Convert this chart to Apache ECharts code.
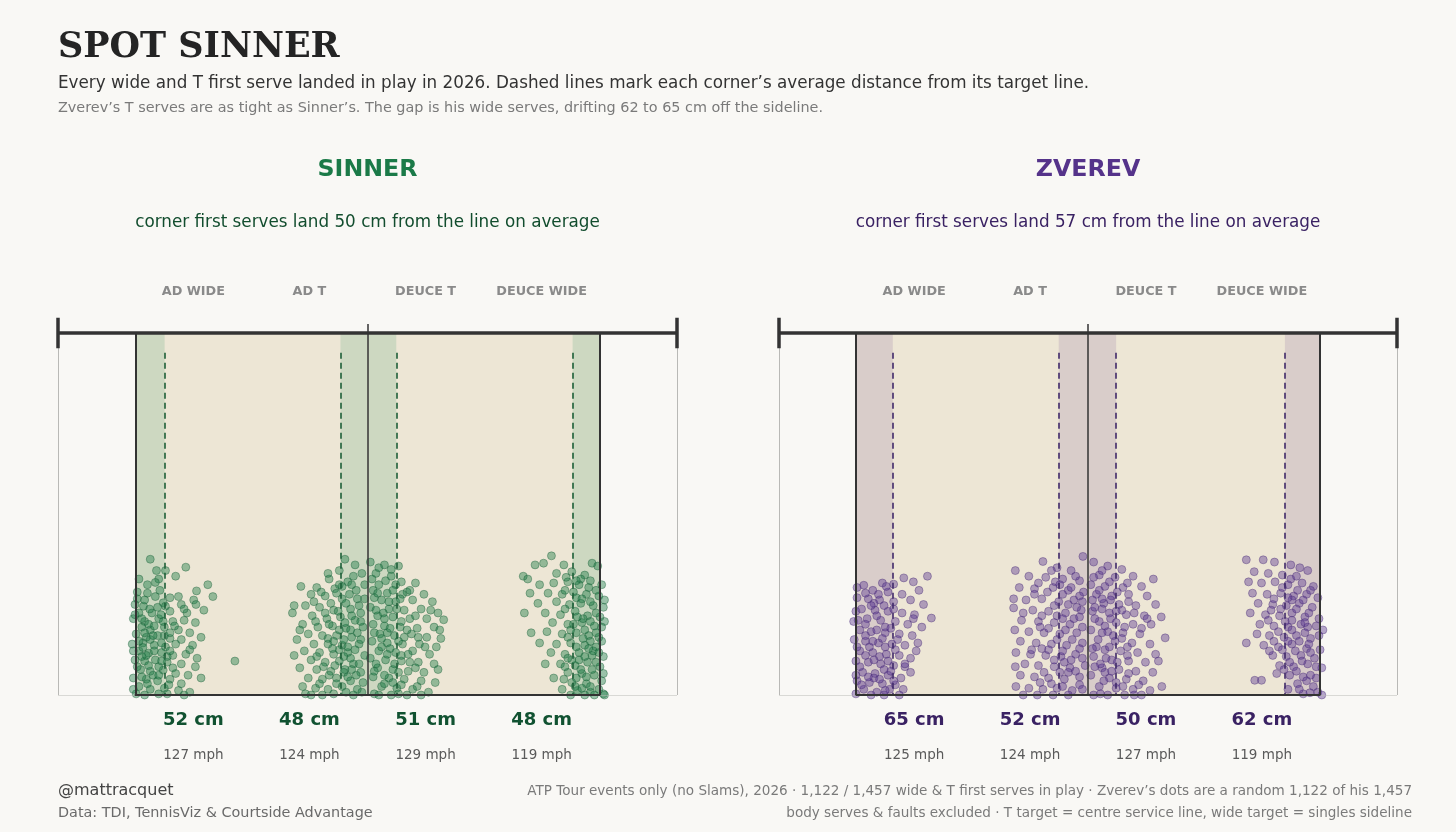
<!DOCTYPE html>
<html>
<head>
<meta charset="utf-8">
<script src="https://cdn.jsdelivr.net/npm/echarts@6.0.0/dist/echarts.min.js"></script>
<style>
  html, body { margin: 0; padding: 0; background: #f9f8f5; }
  #chart { width: 1456px; height: 832px; }
</style>
</head>
<body>
<div id="chart"></div>
<script>
// court geometry, metres (x = across the court, 0 = centre service line; y = depth from the net)
const HALF_DOUBLES = 5.485;
const HALF_SINGLES = 4.115;
const BOX_DEPTH = 6.4;

const zones = ['AD WIDE', 'AD T', 'DEUCE T', 'DEUCE WIDE'];
const zoneCentre = [-3.086, -1.029, 1.029, 3.086];
const targetLine = [-4.115, 0, 0, 4.115];
const inward = [1, -1, 1, -1]; // which way "off the line" goes for each corner

const sinnerCm = [52, 48, 51, 48];
const sinnerMph = [127, 124, 129, 119];
const zverevCm = [65, 52, 50, 62];
const zverevMph = [125, 124, 127, 119];

// landing spots [x, y] (a thinned sample of each cloud)
const sinnerAdWide = [[-3.85,4.0],[-3.74,4.2],[-3.58,4.2],[-3.22,4.14],[-3.4,4.3],[-3.7,4.35],[-4.05,4.35],[-3.9,4.45],[-3.76,4.41],[-2.83,4.45],[-3.03,4.56],[-2.74,4.66],[-3.9,4.6],[-3.76,4.66],[-3.35,4.66],[-3.08,4.72],[-3.62,4.77],[-4.12,4.8],[-3.97,4.83],[-3.58,4.83],[-3.3,4.8],[-3.04,4.8],[-2.9,4.9],[-4.05,4.95],[-3.82,4.95],[-3.5,4.92],[-3.2,4.95],[-4.15,5.05],[-3.95,5.1],[-3.7,5.05],[-3.45,5.1],[-3.25,5.08],[-3.05,5.12],[-4.0,5.2],[-3.85,5.25],[-3.6,5.2],[-3.35,5.25],[-3.15,5.3],[-4.1,5.32],[-3.92,5.38],[-3.72,5.35],[-3.5,5.4],[-3.3,5.42],[-2.95,5.38],[-4.17,5.5],[-3.98,5.48],[-3.78,5.52],[-3.58,5.55],[-3.4,5.5],[-3.1,5.52],[-4.05,5.62],[-3.88,5.66],[-3.65,5.65],[-3.45,5.7],[-3.22,5.68],[-2.35,5.8],[-4.12,5.78],[-3.95,5.8],[-3.76,5.78],[-3.55,5.82],[-3.3,5.85],[-3.05,5.9],[-4.02,5.95],[-3.85,5.98],[-3.62,5.96],[-3.4,6.02],[-3.18,6.05],[-4.15,6.1],[-3.92,6.12],[-3.72,6.15],[-3.5,6.12],[-2.95,6.1],[-4.05,6.25],[-3.85,6.3],[-3.6,6.28],[-3.35,6.32],[-3.15,6.35],[-4.1,6.38],[-3.95,6.4],[-3.7,6.38],[-3.25,6.4],[-3.88,5.15],[-3.66,4.98],[-3.98,5.56],[-3.7,5.9],[-4.08,4.7],[-3.52,6.22],[-3.8,6.05],[-3.6,5.35],[-4.0,5.72],
  [-4.08,4.58],[-3.95,4.72],[-3.68,4.55],[-3.5,4.68],[-3.86,4.88],[-4.12,4.98],[-3.62,5.1],[-3.78,5.18],[-4.05,5.45],[-3.85,5.42],[-3.65,5.48],[-3.5,5.3],[-4.15,5.62],[-3.92,5.7],[-3.78,5.62],[-3.55,5.72],[-4.08,5.9],[-3.88,5.88],[-3.65,5.8],[-3.45,5.92],[-4.0,6.08],[-3.7,6.05],[-3.55,6.38],[-3.9,6.2],[-4.15,6.3],[-3.42,5.18],[-3.25,4.88],[-3.15,5.6],[-3.02,5.75],[-3.3,6.2],[-3.72,4.85],[-4.0,5.05],[-3.95,5.3],[-3.8,5.35],[-3.5,5.62]];
const sinnerAdT = [[-0.4,4.0],[-0.22,4.1],[-0.5,4.2],[-0.1,4.25],[-0.68,4.35],[-0.35,4.4],[-1.18,4.48],[-0.9,4.5],[-0.58,4.52],[-0.2,4.55],[-1.0,4.62],[-0.75,4.65],[-0.45,4.7],[-0.05,4.7],[-1.3,4.82],[-1.1,4.82],[-0.85,4.85],[-0.6,4.9],[-0.3,4.88],[-0.12,4.95],[-1.33,4.95],[-0.98,5.0],[-0.72,5.05],[-0.48,5.02],[-0.22,5.08],[-1.15,5.15],[-0.88,5.2],[-0.62,5.18],[-0.38,5.22],[-0.08,5.2],[-1.05,5.32],[-0.8,5.35],[-0.55,5.35],[-0.28,5.38],[-1.25,5.42],[-0.95,5.5],[-0.7,5.5],[-0.45,5.52],[-0.15,5.5],[-1.12,5.62],[-0.85,5.65],[-0.6,5.68],[-0.35,5.65],[-0.05,5.7],[-1.0,5.78],[-0.75,5.82],[-0.5,5.8],[-0.25,5.85],[-1.2,5.92],[-0.9,5.95],[-0.65,5.98],[-0.4,5.95],[-0.12,6.0],[-1.05,6.1],[-0.8,6.12],[-0.55,6.1],[-0.3,6.15],[-1.15,6.25],[-0.92,6.28],[-0.7,6.3],[-0.45,6.25],[-0.18,6.3],[-1.0,6.4],[-0.6,6.38],[-0.25,6.4],[-0.32,4.62],[-0.15,4.82],[-0.4,5.12],[-0.18,5.3],[-0.5,5.6],[-0.3,5.75],[-0.2,6.05],[-0.12,5.42],[-0.65,4.78],[-0.78,5.9],[-0.55,6.2],[-0.08,6.18],[-0.42,6.0],[-0.25,4.3],[-0.95,4.75],[-0.6,5.45],[-0.35,5.55],
  [-0.7,4.25],[-0.45,4.48],[-0.28,4.45],[-0.82,4.58],[-0.55,4.6],[-0.38,4.78],[-0.18,4.7],[-0.75,4.95],[-0.52,4.92],[-0.28,5.0],[-0.92,5.1],[-0.68,5.15],[-0.5,5.25],[-0.3,5.25],[-0.12,5.1],[-0.7,5.4],[-0.42,5.42],[-0.22,5.6],[-0.62,5.58],[-0.9,5.72],[-0.42,5.72],[-0.15,5.85],[-0.58,5.88],[-0.35,6.08],[-0.68,6.05],[-0.85,6.2],[-0.38,6.35],[-0.1,6.35],[-1.2,5.25],[-1.3,5.7],[-1.1,6.38],[-0.8,6.4],[-0.5,4.45],[-0.05,4.45],[-0.28,5.95]];
const sinnerDeuceT = [[0.05,4.05],[0.3,4.1],[0.55,4.12],[0.15,4.25],[0.42,4.3],[0.2,4.45],[0.6,4.4],[0.85,4.42],[0.1,4.55],[0.35,4.6],[0.7,4.58],[1.0,4.62],[0.25,4.72],[0.5,4.75],[0.8,4.72],[1.15,4.75],[0.05,4.85],[0.38,4.88],[0.65,4.9],[0.95,4.88],[1.25,4.95],[0.18,5.0],[0.45,5.02],[0.75,5.05],[1.05,5.05],[1.35,5.07],[0.1,5.15],[0.3,5.18],[0.58,5.2],[0.88,5.22],[1.18,5.2],[0.22,5.32],[0.48,5.35],[0.78,5.32],[1.05,5.38],[0.08,5.45],[0.35,5.48],[0.62,5.5],[0.92,5.5],[1.22,5.55],[0.2,5.62],[0.5,5.65],[0.8,5.62],[1.1,5.68],[0.05,5.75],[0.32,5.78],[0.6,5.8],[0.9,5.82],[1.18,5.85],[0.18,5.92],[0.45,5.95],[0.72,5.98],[1.0,6.0],[0.1,6.08],[0.38,6.1],[0.65,6.12],[0.95,6.15],[1.2,6.18],[0.25,6.25],[0.52,6.28],[0.8,6.3],[1.08,6.35],[0.12,6.38],[0.42,6.4],[0.7,6.4],[0.28,4.95],[0.4,5.58],[0.15,5.85],[0.55,6.0],[0.3,6.2],[0.62,4.62],[0.25,5.4],[0.5,4.45],[0.12,4.68],[0.7,5.25],[0.85,5.92],[0.35,5.3],[0.6,5.7],[1.3,5.4],[0.45,6.18],
  [0.2,4.15],[0.42,4.18],[0.08,4.35],[0.32,4.38],[0.75,4.55],[0.45,4.55],[0.18,4.6],[0.58,4.7],[0.38,4.75],[0.15,4.9],[0.52,4.88],[0.85,5.0],[0.3,5.05],[0.6,5.1],[0.12,5.3],[0.4,5.22],[0.65,5.38],[0.9,5.38],[0.25,5.55],[0.55,5.45],[0.72,5.68],[1.02,5.55],[0.35,5.68],[0.12,5.98],[0.48,5.85],[0.75,5.82],[0.3,6.05],[0.6,6.22],[0.88,6.25],[0.2,6.4],[0.55,6.38],[0.95,6.4],[1.12,4.9],[1.28,5.25],[1.25,5.95]];
const sinnerDeuceWide = [[3.26,3.94],[2.97,4.1],[3.12,4.07],[3.48,4.1],[3.98,4.07],[4.08,4.12],[2.76,4.3],[2.84,4.35],[3.35,4.25],[3.62,4.22],[3.85,4.28],[3.05,4.45],[3.3,4.42],[3.55,4.4],[3.75,4.45],[3.95,4.38],[4.15,4.45],[2.88,4.6],[3.2,4.6],[3.45,4.62],[3.65,4.58],[3.88,4.62],[4.1,4.65],[3.02,4.78],[3.35,4.75],[3.58,4.8],[3.78,4.78],[4.0,4.82],[4.18,4.85],[2.78,4.95],[3.15,4.95],[3.42,4.98],[3.68,4.92],[3.9,5.0],[4.12,5.02],[3.28,5.12],[3.55,5.15],[3.8,5.12],[4.02,5.18],[4.2,5.1],[2.9,5.3],[3.18,5.28],[3.45,5.32],[3.7,5.3],[3.92,5.35],[4.1,5.38],[3.05,5.48],[3.35,5.5],[3.6,5.48],[3.85,5.52],[4.05,5.55],[3.25,5.65],[3.5,5.68],[3.75,5.65],[3.98,5.7],[4.18,5.72],[3.15,5.85],[3.42,5.85],[3.68,5.88],[3.9,5.82],[4.12,5.9],[3.55,6.0],[3.8,6.02],[4.02,6.05],[3.3,6.1],[3.62,6.18],[3.88,6.2],[4.15,6.15],[3.45,6.3],[3.72,6.32],[3.95,6.35],[4.18,6.38],[3.6,6.4],[3.85,6.4],[3.7,4.68],[3.82,5.05],[3.95,5.45],[3.75,5.78],[3.88,6.08],[3.6,5.25],[4.05,4.95],[3.5,5.9],[3.78,4.35],[3.68,6.25],[4.0,5.62],
  [3.52,4.32],[3.7,4.38],[3.92,4.5],[4.05,4.55],[3.5,4.55],[3.8,4.7],[3.95,4.75],[4.2,4.72],[3.5,4.88],[3.72,5.02],[3.95,5.1],[4.15,5.2],[3.65,5.15],[3.85,5.25],[4.05,5.3],[3.55,5.38],[3.82,5.4],[4.15,5.45],[3.7,5.55],[3.92,5.58],[4.1,5.65],[3.62,5.78],[3.85,5.72],[4.05,5.82],[3.55,5.75],[3.78,5.95],[3.98,5.95],[4.18,6.02],[3.7,6.1],[3.95,6.25],[4.1,6.3],[3.8,6.28],[3.48,6.12],[4.2,6.4],[4.02,6.4]];

const zverevAdWide = [[-2.85,4.3],[-3.45,4.44],[-3.27,4.33],[-3.98,4.46],[-3.1,4.4],[-3.65,4.42],[-3.82,4.55],[-3.55,4.58],[-3.0,4.55],[-3.3,4.62],[-4.1,4.68],[-3.9,4.7],[-3.7,4.72],[-3.45,4.75],[-3.15,4.72],[-2.92,4.8],[-4.16,5.1],[-2.78,5.04],[-4.02,4.88],[-3.78,4.9],[-3.55,4.92],[-3.3,4.95],[-3.08,4.98],[-3.92,5.05],[-3.68,5.08],[-3.42,5.1],[-3.2,5.15],[-2.95,5.2],[-4.05,5.25],[-3.85,5.28],[-3.6,5.3],[-3.35,5.32],[-3.12,5.35],[-4.15,5.42],[-3.95,5.45],[-3.72,5.48],[-3.48,5.5],[-3.25,5.52],[-3.02,5.48],[-4.05,5.62],[-3.82,5.65],[-3.58,5.68],[-3.35,5.7],[-3.15,5.75],[-4.12,5.8],[-3.9,5.82],[-3.68,5.85],[-3.45,5.88],[-3.25,5.9],[-4.0,6.0],[-3.78,6.02],[-3.55,6.05],[-3.32,6.1],[-4.1,6.15],[-3.88,6.18],[-3.65,6.2],[-3.42,6.22],[-3.98,6.3],[-3.75,6.35],[-3.52,6.3],[-4.12,6.38],[-3.62,6.4],[-3.35,6.4],[-3.8,4.78],[-3.6,5.2],[-3.88,5.55],[-3.5,5.98],[-3.7,5.72],[-3.95,5.15],[-3.42,5.6],[-3.15,6.0],[-3.8,6.1],[-3.28,6.3],[-3.72,4.62],
  [-4.1,4.5],[-3.95,4.6],[-3.58,4.48],[-3.85,4.82],[-4.12,4.92],[-3.62,4.82],[-3.45,4.88],[-3.75,5.0],[-4.08,5.08],[-3.5,5.22],[-3.75,5.25],[-3.95,5.35],[-3.65,5.4],[-3.82,5.45],[-4.1,5.55],[-3.6,5.55],[-3.95,5.7],[-3.8,5.78],[-3.55,5.8],[-4.05,5.9],[-3.62,5.95],[-3.9,6.08],[-3.7,6.12],[-4.02,6.22],[-3.85,6.4],[-4.12,6.05],[-3.45,6.15],[-3.6,6.32],[-3.25,5.85],[-3.05,5.62],[-3.1,5.05],[-3.38,5.42]];
const zverevAdT = [[-0.8,4.04],[-0.09,3.95],[-1.29,4.2],[-0.55,4.15],[-0.3,4.2],[-1.05,4.3],[-0.75,4.32],[-0.45,4.35],[-0.15,4.38],[-1.22,4.5],[-0.95,4.52],[-0.62,4.5],[-0.35,4.55],[-0.08,4.58],[-1.32,4.7],[-1.1,4.72],[-0.82,4.7],[-0.52,4.75],[-0.25,4.72],[-1.32,4.86],[-0.98,4.9],[-0.7,4.92],[-0.4,4.95],[-0.12,4.9],[-1.18,5.08],[-0.88,5.1],[-0.6,5.12],[-0.32,5.15],[-1.3,5.25],[-1.05,5.28],[-0.78,5.3],[-0.5,5.32],[-0.2,5.3],[-1.2,5.45],[-0.92,5.48],[-0.65,5.5],[-0.38,5.52],[-0.1,5.48],[-1.28,5.65],[-1.02,5.68],[-0.75,5.7],[-0.48,5.72],[-0.22,5.68],[-1.29,5.9],[-1.12,5.85],[-0.88,5.88],[-0.6,5.9],[-0.32,5.92],[-0.05,5.88],[-1.2,6.05],[-0.95,6.08],[-0.7,6.1],[-0.42,6.12],[-0.15,6.08],[-1.28,6.25],[-1.05,6.28],[-0.8,6.3],[-0.55,6.28],[-0.28,6.32],[-1.15,6.4],[-0.9,6.4],[-0.62,6.4],[-0.35,6.4],[-0.45,4.62],[-0.2,4.85],[-0.55,5.0],[-0.28,5.42],[-0.42,5.82],[-0.15,6.22],[-0.7,5.6],[-0.58,4.4],[-0.85,5.2],[-0.25,5.05],[-0.65,6.2],[-0.35,6.0],
  [-0.65,4.2],[-0.22,4.3],[-0.88,4.42],[-0.5,4.45],[-0.3,4.5],[-0.72,4.58],[-0.15,4.65],[-0.6,4.82],[-0.35,4.8],[-0.1,4.75],[-0.82,5.0],[-0.45,5.05],[-0.15,5.02],[-0.7,5.22],[-0.4,5.25],[-0.1,5.2],[-0.55,5.42],[-0.82,5.58],[-0.45,5.62],[-0.15,5.58],[-0.6,5.78],[-0.3,5.78],[-0.1,5.75],[-0.78,6.0],[-0.5,6.0],[-0.22,5.98],[-0.85,6.18],[-0.45,6.25],[-0.1,6.3],[-1.0,5.6],[-1.15,4.95],[-0.95,4.62]];
const zverevDeuceT = [[0.1,4.05],[0.35,4.12],[0.6,4.18],[0.2,4.28],[0.48,4.32],[0.8,4.3],[1.16,4.35],[0.05,4.45],[0.3,4.48],[0.62,4.5],[0.95,4.48],[0.15,4.62],[0.42,4.65],[0.72,4.62],[1.05,4.65],[0.28,4.78],[0.55,4.8],[0.85,4.82],[1.2,4.8],[0.08,4.92],[0.38,4.95],[0.68,4.98],[1.0,5.0],[1.3,5.02],[0.2,5.1],[0.5,5.12],[0.8,5.15],[1.12,5.15],[0.05,5.25],[0.35,5.28],[0.62,5.3],[0.92,5.32],[1.37,5.39],[0.18,5.42],[0.48,5.45],[0.78,5.48],[1.1,5.5],[0.3,5.6],[0.58,5.62],[0.88,5.65],[1.2,5.68],[0.1,5.72],[0.42,5.78],[0.72,5.8],[1.02,5.82],[0.25,5.92],[0.55,5.95],[0.85,5.98],[1.15,6.0],[0.05,6.05],[0.38,6.1],[0.68,6.12],[0.98,6.15],[1.31,6.25],[0.2,6.25],[0.5,6.28],[0.8,6.3],[1.1,6.32],[0.1,6.4],[0.35,6.4],[0.65,6.4],[0.95,6.4],[0.25,4.7],[0.4,5.05],[0.15,5.55],[0.3,6.0],[0.6,4.9],[0.45,5.35],[0.22,5.85],[0.5,6.18],[0.12,4.85],[0.7,5.55],
  [0.25,4.2],[0.1,4.32],[0.38,4.4],[0.7,4.42],[0.2,4.55],[0.52,4.58],[0.08,4.72],[0.4,4.72],[0.72,4.75],[0.25,4.88],[0.5,4.92],[0.82,4.95],[0.12,5.05],[0.3,5.18],[0.65,5.2],[0.95,5.22],[0.25,5.3],[0.6,5.4],[0.08,5.58],[0.38,5.55],[0.7,5.7],[0.32,5.75],[0.52,5.82],[0.12,5.9],[0.42,5.98],[0.72,6.02],[0.28,6.15],[0.62,6.25],[0.9,6.22],[0.22,6.38],[0.82,6.4],[1.25,5.8],[1.05,5.05]];
const zverevDeuceWide = [[2.81,4.01],[3.11,4.01],[3.31,4.05],[3.6,4.1],[3.76,4.15],[3.9,4.2],[2.95,4.22],[3.2,4.25],[3.45,4.28],[2.85,4.4],[3.08,4.42],[3.32,4.4],[3.55,4.45],[3.8,4.42],[4.0,4.48],[2.92,4.6],[3.18,4.62],[3.42,4.6],[3.65,4.65],[3.88,4.62],[4.08,4.68],[3.02,4.78],[3.28,4.8],[3.52,4.82],[3.75,4.78],[3.98,4.85],[2.88,4.95],[3.15,4.98],[3.4,5.0],[3.62,4.95],[3.85,5.02],[4.1,5.05],[3.05,5.15],[3.3,5.18],[3.55,5.2],[3.78,5.15],[4.17,5.25],[3.0,5.32],[3.22,5.35],[3.48,5.38],[3.7,5.35],[3.95,5.4],[2.81,5.48],[3.12,5.52],[3.38,5.55],[3.62,5.5],[3.88,5.58],[4.12,5.6],[3.28,5.7],[3.52,5.72],[3.78,5.7],[4.02,5.75],[3.4,5.88],[3.65,5.9],[3.9,5.85],[4.15,5.92],[3.35,6.02],[3.58,6.05],[3.82,6.08],[4.05,6.1],[2.96,6.14],[3.08,6.14],[3.72,6.2],[4.0,6.25],[3.94,6.36],[3.55,6.3],[3.82,6.38],[4.15,6.4],[3.62,4.72],[3.5,5.1],[3.75,5.45],[3.45,5.6],[3.6,4.35],[3.25,4.9],[3.9,5.2],[3.7,5.98],
  [3.7,4.3],[3.45,4.5],[3.72,4.55],[3.95,4.55],[3.3,4.7],[3.55,4.68],[3.82,4.72],[3.42,4.88],[3.7,4.88],[3.92,4.95],[3.2,5.08],[3.62,5.08],[3.85,5.12],[4.05,5.18],[3.38,5.28],[3.62,5.25],[3.85,5.3],[4.1,5.35],[3.55,5.45],[3.92,5.5],[3.22,5.62],[3.68,5.62],[3.95,5.65],[3.58,5.82],[3.8,5.8],[4.05,5.9],[3.48,5.95],[3.95,6.05],[3.75,6.3],[4.08,6.35],[3.88,6.15],[3.3,5.45]];

const players = [
  { name: 'SINNER', avg: 50, cm: sinnerCm, mph: sinnerMph,
    points: [sinnerAdWide, sinnerAdT, sinnerDeuceT, sinnerDeuceWide],
    title: '#1b7a48', sub: '#124d2e', dot: 'rgba(32,126,72,0.55)', edge: 'rgba(18,90,50,0.6)',
    band: '#cdd8c1', dash: '#1b5e36', num: '#115231' },
  { name: 'ZVEREV', avg: 57, cm: zverevCm, mph: zverevMph,
    points: [zverevAdWide, zverevAdT, zverevDeuceT, zverevDeuceWide],
    title: '#55338a', sub: '#3a2263', dot: 'rgba(94,60,148,0.55)', edge: 'rgba(66,38,112,0.6)',
    band: '#d9cdca', dash: '#3f2869', num: '#3a2263' }
];

const FONT = '"DejaVu Sans", "Noto Sans", sans-serif';
const chart = echarts.init(document.getElementById('chart'));

const grids = [
  { left: 58, top: 316, width: 619, height: 379 },
  { left: 779, top: 316, width: 618, height: 379 }
];

const xAxes = [], yAxes = [], series = [];
players.forEach((p, g) => {
  xAxes.push({ gridIndex: g, type: 'value', min: -HALF_DOUBLES, max: HALF_DOUBLES, show: false });
  yAxes.push({ gridIndex: g, type: 'value', min: -0.3, max: BOX_DEPTH, inverse: true, show: false });

  const rectItem = (params, api) => {
    const a = api.coord([api.value(0), api.value(2)]);
    const b = api.coord([api.value(1), api.value(3)]);
    return { type: 'rect',
      shape: { x: Math.min(a[0], b[0]), y: Math.min(a[1], b[1]), width: Math.abs(b[0] - a[0]), height: Math.abs(b[1] - a[1]) },
      style: { fill: api.visual('color') } };
  };

  // singles box fill
  series.push({ type: 'custom', xAxisIndex: g, yAxisIndex: g, silent: true, z: 1,
    itemStyle: { color: '#ede6d5' }, renderItem: rectItem,
    data: [[-HALF_SINGLES, HALF_SINGLES, 0, BOX_DEPTH]] });

  // average-distance bands
  const bandData = targetLine.map((t, i) => {
    const edge = t + inward[i] * p.cm[i] / 100;
    return [Math.min(t, edge), Math.max(t, edge), 0, BOX_DEPTH];
  });
  series.push({ type: 'custom', xAxisIndex: g, yAxisIndex: g, silent: true, z: 2,
    itemStyle: { color: p.band }, renderItem: rectItem, data: bandData });

  // serve landing dots
  p.points.forEach(pts => {
    series.push({ type: 'scatter', xAxisIndex: g, yAxisIndex: g, silent: true, z: 3,
      symbolSize: 8, clip: false,
      itemStyle: { color: p.dot, borderColor: p.edge, borderWidth: 0.8 },
      data: pts });
  });

  const seg = (x1, y1, x2, y2) => ({ coords: [[x1, y1], [x2, y2]] });

  // thin doubles frame
  series.push({ type: 'lines', coordinateSystem: 'cartesian2d', xAxisIndex: g, yAxisIndex: g, silent: true, z: 4,
    lineStyle: { color: '#b9b9b6', width: 1, opacity: 1 },
    data: [seg(-HALF_DOUBLES, 0, -HALF_DOUBLES, BOX_DEPTH), seg(HALF_DOUBLES, 0, HALF_DOUBLES, BOX_DEPTH),
           seg(-HALF_DOUBLES, BOX_DEPTH, HALF_DOUBLES, BOX_DEPTH)] });

  // dashed average lines
  series.push({ type: 'lines', coordinateSystem: 'cartesian2d', xAxisIndex: g, yAxisIndex: g, silent: true, z: 5,
    lineStyle: { color: p.dash, width: 1.6, type: [6, 4], opacity: 1 },
    data: targetLine.map((t, i) => {
      const edge = t + inward[i] * p.cm[i] / 100;
      return seg(edge, 0.35, edge, BOX_DEPTH);
    }) });

  // singles lines and service line
  series.push({ type: 'lines', coordinateSystem: 'cartesian2d', xAxisIndex: g, yAxisIndex: g, silent: true, z: 6,
    lineStyle: { color: '#333333', width: 2, opacity: 1 },
    data: [seg(-HALF_SINGLES, 0, -HALF_SINGLES, BOX_DEPTH), seg(HALF_SINGLES, 0, HALF_SINGLES, BOX_DEPTH),
           seg(-HALF_SINGLES - 0.01, BOX_DEPTH, HALF_SINGLES + 0.01, BOX_DEPTH)] });

  // centre service line
  series.push({ type: 'lines', coordinateSystem: 'cartesian2d', xAxisIndex: g, yAxisIndex: g, silent: true, z: 6,
    lineStyle: { color: '#333333', width: 1.5, opacity: 1 },
    data: [seg(0, -0.16, 0, BOX_DEPTH)] });

  // net and posts
  series.push({ type: 'lines', coordinateSystem: 'cartesian2d', xAxisIndex: g, yAxisIndex: g, silent: true, z: 7,
    lineStyle: { color: '#333333', width: 3.5, opacity: 1 },
    data: [seg(-HALF_DOUBLES, 0, HALF_DOUBLES, 0),
           seg(-HALF_DOUBLES, -0.27, -HALF_DOUBLES, 0.27), seg(HALF_DOUBLES, -0.27, HALF_DOUBLES, 0.27)] });
});

chart.setOption({
  backgroundColor: '#f9f8f5',
  animation: false,
  grid: grids,
  xAxis: xAxes,
  yAxis: yAxes,
  series: series
});

// text layer, positioned from the axes
function txt(x, y, text, size, color, opts) {
  opts = opts || {};
  return { type: 'text', silent: true, z: 10,
    style: { x: x, y: y, text: text, fill: color,
             font: (opts.bold ? 'bold ' : '') + size + 'px ' + (opts.family || FONT),
             textAlign: opts.align || 'left', textVerticalAlign: 'middle' } };
}

const graphics = [
  txt(58, 47.5, 'SPOT SINNER', 35, '#242424', { bold: true, family: '"DejaVu Serif", serif' }),
  txt(58, 84, 'Every wide and T first serve landed in play in 2026. Dashed lines mark each corner\u2019s average distance from its target line.', 16.8, '#333333'),
  txt(58, 108, 'Zverev\u2019s T serves are as tight as Sinner\u2019s. The gap is his wide serves, drifting 62 to 65 cm off the sideline.', 14.4, '#7a7a7a'),
  txt(58, 791, '@mattracquet', 16, '#444444'),
  txt(58, 813, 'Data: TDI, TennisViz & Courtside Advantage', 14.4, '#6a6a6a'),
  txt(1412, 791, 'ATP Tour events only (no Slams), 2026 \u00b7 1,122 / 1,457 wide & T first serves in play \u00b7 Zverev\u2019s dots are a random 1,122 of his 1,457', 13.55, '#7a7a7a', { align: 'right' }),
  txt(1412, 813, 'body serves & faults excluded \u00b7 T target = centre service line, wide target = singles sideline', 13.55, '#7a7a7a', { align: 'right' })
];

players.forEach((p, g) => {
  const cx = chart.convertToPixel({ gridIndex: g }, [0, 0])[0];
  graphics.push(txt(cx, 170, p.name, 23.7, p.title, { bold: true, align: 'center' }));
  graphics.push(txt(cx, 223, 'corner first serves land ' + p.avg + ' cm from the line on average', 16.8, p.sub, { align: 'center' }));
  zones.forEach((z, i) => {
    const zx = chart.convertToPixel({ gridIndex: g }, [zoneCentre[i], 0])[0];
    graphics.push(txt(zx, 292, z, 12.8, '#8a8a8a', { bold: true, align: 'center' }));
    graphics.push(txt(zx, 720, p.cm[i] + ' cm', 18, p.num, { bold: true, align: 'center' }));
    graphics.push(txt(zx, 755, p.mph[i] + ' mph', 13.5, '#5a5a5a', { align: 'center' }));
  });
});

chart.setOption({ graphic: graphics });
</script>
</body>
</html>
